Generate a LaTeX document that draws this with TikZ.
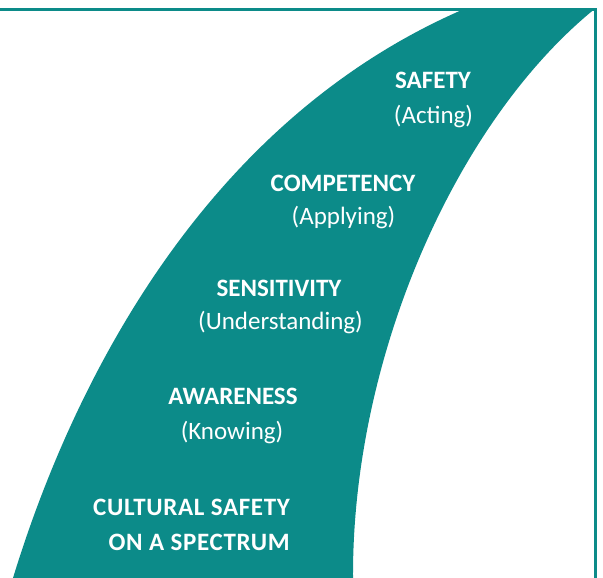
\documentclass[tikz,border=0pt]{standalone}
\usepackage{fontspec}
\setmainfont{Carlito}
\usepackage{xcolor}
\definecolor{spectrum}{RGB}{12,139,137}

\begin{document}
\begin{tikzpicture}[x=1pt, y=1pt,
	stage/.style={text=white, font=\bfseries\fontsize{25}{30}\selectfont, anchor=base, inner sep=0pt},
	action/.style={text=white, font=\fontsize{25}{30}\selectfont, anchor=base, inner sep=0pt}]
			\useasboundingbox (0,0) rectangle (603,578);

			% the spectrum band
			\fill[spectrum] (13,0) .. controls (65,170) and (190,450) .. (463,568.5)
				-- (594,568.5) .. controls (455,455) and (352,220) .. (353,0) -- cycle;
			\draw[spectrum, line width=2.5pt] (0,568.5) -- (595.5,568.5) -- (595.5,0);

			\node[stage] (safety) at (433,489) {SAFETY};
			\node[action] (acting) at (433.5,454) {(Acting)};
			\node[stage] (competency) at (343,386) {COMPETENCY};
			\node[action] (applying) at (343.5,353) {(Applying)};
			\node[stage] (sensitivity) at (279,281) {SENSITIVITY};
			\node[action] (understanding) at (280.5,248) {(Understanding)};
			\node[stage] (awareness) at (233,173) {AWARENESS};
			\node[action] (knowing) at (232,138) {(Knowing)};
			\node[stage, anchor=base east, font=\bfseries\fontsize{25}{30}\selectfont\addfontfeature{LetterSpace=2.6}] (cultural) at (290,62) {CULTURAL SAFETY};
			\node[stage, anchor=base east, font=\bfseries\fontsize{25}{30}\selectfont\addfontfeature{LetterSpace=2.8}] (spectrumtext) at (290,27) {ON A SPECTRUM};
		\end{tikzpicture}
\end{document}
